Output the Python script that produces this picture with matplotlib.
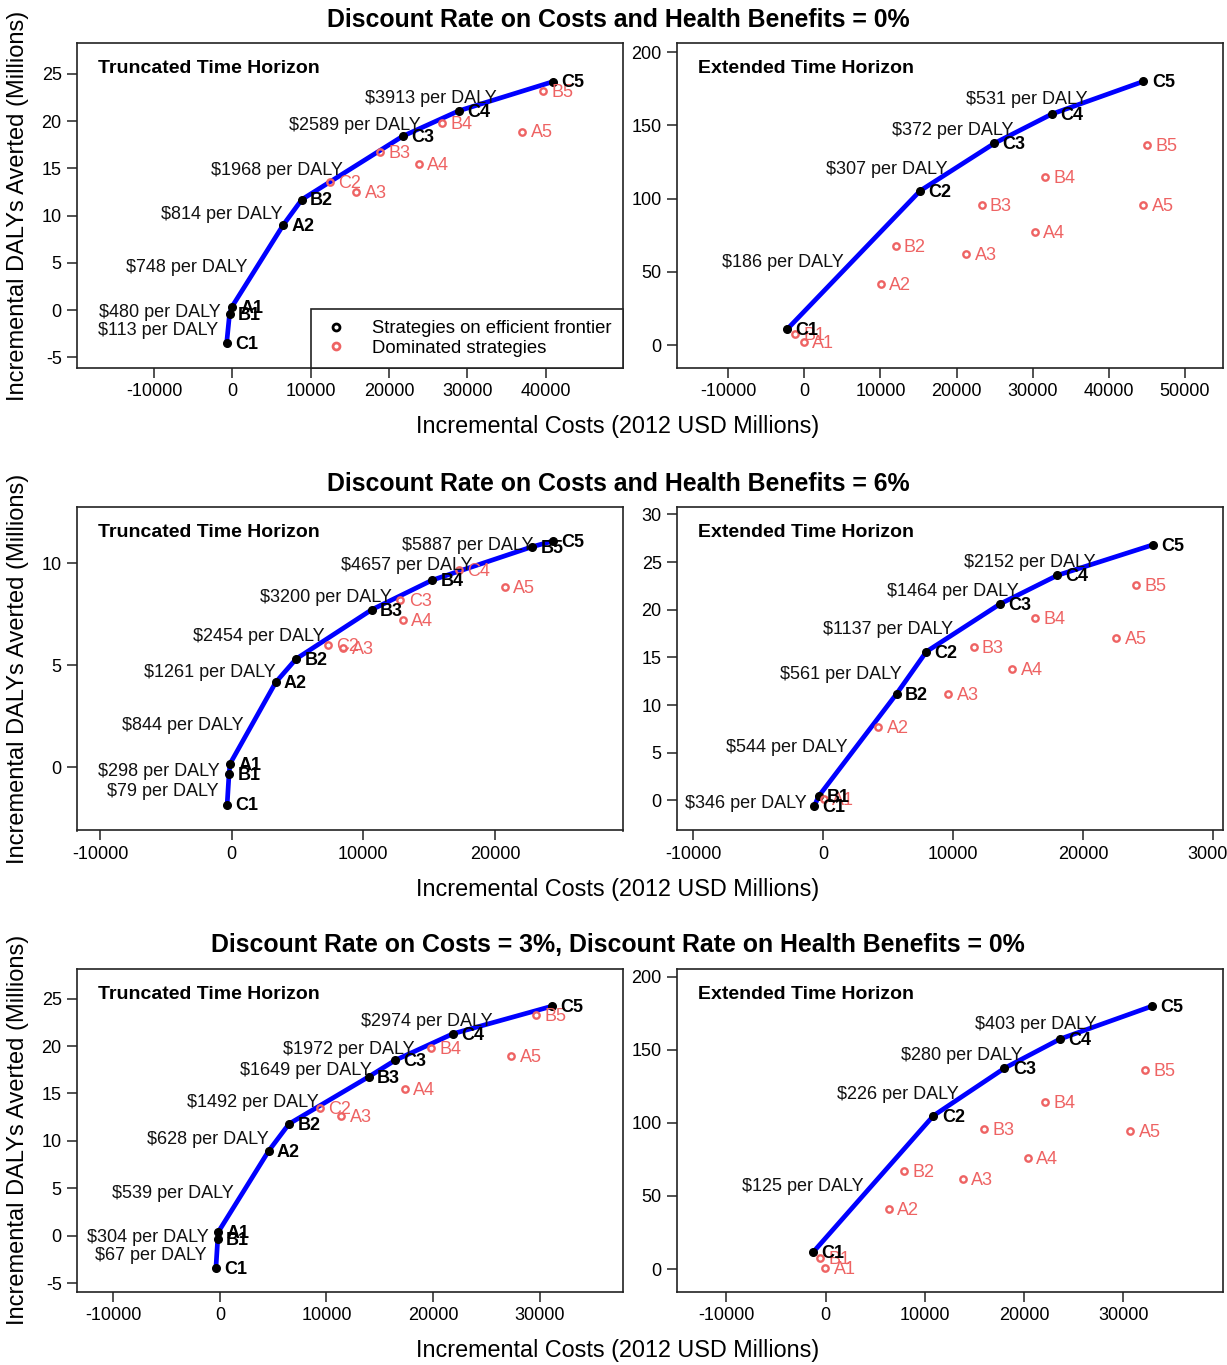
# Cost-effectiveness frontiers for the 15 strategies, three discounting scenarios
import matplotlib
matplotlib.use("Agg")
import matplotlib.pyplot as plt
from matplotlib.lines import Line2D

plt.rcParams['font.family'] = ['Liberation Sans', 'DejaVu Sans']
plt.rcParams['axes.unicode_minus'] = False

STRATEGIES = ["A1", "A2", "A3", "A4", "A5",
              "B1", "B2", "B3", "B4", "B5",
              "C1", "C2", "C3", "C4", "C5"]

# Discount 0% on costs and benefits, truncated horizon
TRUNC0_COST = [-50, 6490, 15820, 23780, 37040,
               -360, 8870, 18880, 26840, 39650,
               -730, 12440, 21740, 28930, 41000]
TRUNC0_DALY = [0.35, 9.0, 12.5, 15.5, 18.9,
               -0.4, 11.7, 16.7, 19.8, 23.2,
               -3.5, 13.6, 18.4, 21.1, 24.2]
TRUNC0_FRONTIER = ["C1", "B1", "A1", "A2", "B2", "C3", "C4", "C5"]
TRUNC0_ICER = [113, 480, 748, 814, 1968, 2589, 3913]

# Discount 0%, extended horizon
EXT0_COST = [-90, 10050, 21260, 30260, 44550,
             -1250, 11990, 23290, 31600, 45030,
             -2260, 15220, 24960, 32520, 44550]
EXT0_DALY = [1.8, 41.4, 62.3, 77.1, 95.4,
             7.5, 67.8, 95.4, 114.9, 136.5,
             10.7, 105.3, 137.7, 157.7, 180]
EXT0_FRONTIER = ["C1", "C2", "C3", "C4", "C5"]
EXT0_ICER = [186, 307, 372, 531]

# Discount 6%, truncated horizon
TRUNC6_COST = [-130, 3340, 8470, 13010, 20750,
               -210, 4890, 10630, 15230, 22840,
               -350, 7300, 12820, 17230, 24440]
TRUNC6_DALY = [0.18, 4.17, 5.86, 7.24, 8.82,
               -0.34, 5.32, 7.73, 9.18, 10.82,
               -1.82, 6.02, 8.19, 9.67, 11.1]
TRUNC6_FRONTIER = ["C1", "B1", "A1", "A2", "B2", "B3", "B4", "B5", "C5"]
TRUNC6_ICER = [79, 298, 844, 1261, 2454, 3200, 4657, 5887]

# Discount 6%, extended horizon
EXT6_COST = [50, 4240, 9650, 14570, 22570,
             -350, 5670, 11590, 16350, 24110,
             -680, 7950, 13620, 18030, 25380]
EXT6_DALY = [0.18, 7.7, 11.2, 13.8, 17.0,
             0.42, 11.2, 16.1, 19.1, 22.6,
             -0.63, 15.6, 20.6, 23.6, 26.8]
EXT6_FRONTIER = ["C1", "B1", "B2", "C2", "C3", "C4", "C5"]
EXT6_ICER = [346, 544, 561, 1137, 1464, 2152]

# Discount 3% on costs, 0% on benefits, truncated horizon
TRUNC3_COST = [-130, 4580, 11410, 17370, 27340,
               -200, 6490, 13980, 19810, 29640,
               -370, 9360, 16450, 21890, 31190]
TRUNC3_DALY = [0.45, 8.95, 12.6, 15.5, 18.9,
               -0.35, 11.8, 16.77, 19.8, 23.3,
               -3.4, 13.5, 18.5, 21.3, 24.2]
TRUNC3_FRONTIER = ["C1", "B1", "A1", "A2", "B2", "B3", "C3", "C4", "C5"]
TRUNC3_ICER = [67, 304, 539, 628, 1492, 1649, 1972, 2974]

# Discount 3% on costs, 0% on benefits, extended horizon
EXT3_COST = [-40, 6330, 13800, 20340, 30680,
             -570, 7930, 15990, 22080, 32160,
             -1280, 10860, 18010, 23610, 32880]
EXT3_DALY = [0.5, 40.9, 61.6, 76.2, 94.7,
             7.3, 67.1, 95.9, 114.6, 136.3,
             11.4, 105, 137.5, 157.5, 180]
EXT3_FRONTIER = ["C1", "C2", "C3", "C4", "C5"]
EXT3_ICER = [125, 226, 280, 403]

ROW_TITLES = ["Discount Rate on Costs and Health Benefits = 0%",
              "Discount Rate on Costs and Health Benefits = 6%",
              "Discount Rate on Costs = 3%, Discount Rate on Health Benefits = 0%"]
HORIZONS = ["Truncated Time Horizon", "Extended Time Horizon"]
XLABEL = "Incremental Costs (2012 USD Millions)"
YLABEL = "Incremental DALYs Averted (Millions)"

BLUE = "#0000FF"
DOM_COL = "#EE6363"
FS = 13

W, H = 1227, 1365
fig = plt.figure(figsize=(W / 100, H / 100), dpi=100)

# axes boxes in pixels: (left, right) and (top, bottom)
cols = [(77, 623), (677, 1223)]
rows = [(43.3, 368), (506.7, 830.5), (968.5, 1292)]

panels = [
    [(TRUNC0_COST, TRUNC0_DALY, TRUNC0_FRONTIER, TRUNC0_ICER,
      (-19850, 49900), (-6.14, 28.25), range(-10000, 40001, 10000), range(-5, 26, 5)),
     (EXT0_COST, EXT0_DALY, EXT0_FRONTIER, EXT0_ICER,
      (-16710, 54990), (-15.7, 206), range(-10000, 50001, 10000), range(0, 201, 50))],
    [(TRUNC6_COST, TRUNC6_DALY, TRUNC6_FRONTIER, TRUNC6_ICER,
      (-11760, 29730), (-3.09, 12.78), range(-10000, 20001, 10000), range(0, 11, 5)),
     (EXT6_COST, EXT6_DALY, EXT6_FRONTIER, EXT6_ICER,
      (-11240, 30780), (-3.15, 30.8), range(-10000, 30001, 10000), range(0, 31, 5))],
    [(TRUNC3_COST, TRUNC3_DALY, TRUNC3_FRONTIER, TRUNC3_ICER,
      (-13400, 37820), (-5.9, 28.16), range(-10000, 30001, 10000), range(-5, 26, 5)),
     (EXT3_COST, EXT3_DALY, EXT3_FRONTIER, EXT3_ICER,
      (-14980, 40030), (-15.75, 205.8), range(-10000, 30001, 10000), range(0, 201, 50))],
]


def draw_panel(ax, cost, daly, frontier, icer, title):
    idx = [STRATEGIES.index(s) for s in frontier]
    fx = [cost[i] for i in idx]
    fy = [daly[i] for i in idx]
    dom = [i for i, s in enumerate(STRATEGIES) if s not in frontier]

    ax.plot(fx, fy, color=BLUE, lw=3.4, zorder=2, solid_capstyle='round')
    ax.plot(fx, fy, 'o', color='black', ms=5.5, ls='none', zorder=3)
    ax.plot([cost[i] for i in dom], [daly[i] for i in dom], 'o', mfc='none',
            mec=DOM_COL, mew=1.7, ms=4.6, ls='none', zorder=3)

    for i in dom:
        ax.annotate(STRATEGIES[i], (cost[i], daly[i]), xytext=(6, -1),
                    textcoords='offset points', color=DOM_COL, fontsize=FS,
                    ha='left', va='center', zorder=4)
    for s, x, y in zip(frontier, fx, fy):
        ax.annotate(s, (x, y), xytext=(6, -1), textcoords='offset points',
                    color='black', fontsize=FS, fontweight='bold',
                    ha='left', va='center', zorder=4)
    # ICER of each frontier step, left of the segment midpoint
    for k, v in enumerate(icer):
        mx = (fx[k] + fx[k + 1]) / 2
        my = (fy[k] + fy[k + 1]) / 2
        ax.annotate(f"${v} per DALY", (mx, my), xytext=(-7, -1.5),
                    textcoords='offset points', color='#111111', fontsize=FS,
                    ha='right', va='center', zorder=4)

    ax.text(0.038, 0.921, title, transform=ax.transAxes, fontsize=14,
            fontweight='bold', ha='left', va='center')


for r, (top, bot) in enumerate(rows):
    for c, (left, right) in enumerate(cols):
        ax = fig.add_axes([left / W, 1 - bot / H, (right - left) / W, (bot - top) / H])
        cost, daly, frontier, icer, xl, yl, xt, yt = panels[r][c]
        draw_panel(ax, cost, daly, frontier, icer, HORIZONS[c])
        ax.set_xlim(xl)
        ax.set_ylim(yl)
        ax.set_xticks(list(xt))
        ax.set_yticks(list(yt))
        ax.tick_params(direction='out', length=7, width=1.1, labelsize=FS, pad=4,
                       color='#222222')
        for sp in ax.spines.values():
            sp.set_linewidth(1.2)
            sp.set_color('#222222')

        if r == 0 and c == 0:
            handles = [Line2D([], [], marker='o', ls='none', mfc='none', mec='black',
                              mew=2.0, ms=5),
                       Line2D([], [], marker='o', ls='none', mfc='none', mec=DOM_COL,
                              mew=2.0, ms=5)]
            leg = ax.legend(handles, ["Strategies on efficient frontier",
                                      "Dominated strategies"],
                            loc='lower right', bbox_to_anchor=(1, 0),
                            borderaxespad=0, fontsize=13.3, fancybox=False,
                            edgecolor='#222222', framealpha=1,
                            handlelength=1.5, handletextpad=1.2,
                            borderpad=0.6, labelspacing=0.15)
            leg.get_frame().set_linewidth(1.2)

    # row title, x label and y label
    fig.text(618 / W, 1 - (top - 23) / H, ROW_TITLES[r], fontsize=17.9,
             fontweight='bold', ha='center', va='center')
    fig.text(618 / W, 1 - (bot + 59) / H, XLABEL, fontsize=16.8,
             ha='center', va='center')
    fig.text(18 / W, 1 - ((top + bot) / 2) / H, YLABEL, fontsize=17,
             rotation=90, ha='center', va='center')

fig.savefig("out.png", dpi=100)
